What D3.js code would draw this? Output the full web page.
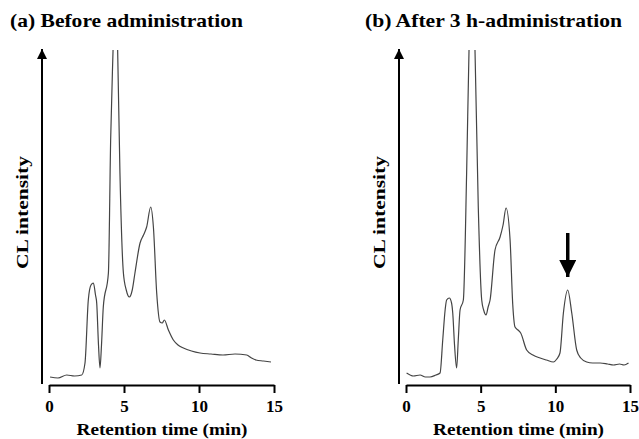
<!DOCTYPE html>
<html>
<head>
<meta charset="utf-8">
<script src="https://cdn.jsdelivr.net/npm/d3@7"></script>
<style>
  body { margin: 0; background: #fff; }
  text { font-family: "Liberation Serif", "DejaVu Serif Condensed", "DejaVu Serif", serif; font-weight: bold; }
</style>
</head>
<body>
<svg id="chart" width="639" height="439"></svg>
<script>
// retention time (min) and CL intensity (arbitrary units)
const timeA = [0.07, 0.6, 1.18, 1.7, 2.18, 2.4, 2.62, 2.8, 2.96, 3.1, 3.18, 3.3, 3.4, 3.5, 3.62, 3.96, 4.11, 4.28, 4.43, 4.57, 4.73, 4.96, 5.15, 5.36, 5.55, 5.73, 6.07, 6.3, 6.51, 6.78, 6.96, 7.18, 7.4, 7.55, 7.69, 7.96, 8.29, 8.6, 8.96, 9.5, 10.07, 10.8, 11.6, 12.4, 13.18, 13.5, 13.8, 14.3, 14.8];
const cltA  = [8, 7, 10, 9, 10, 22, 85, 100, 102, 90, 82, 40, 17, 40, 78, 112, 245, 340, 420, 340, 212, 112, 95, 88, 95, 112, 142, 150, 158, 178, 158, 92, 63, 62, 65, 55, 45, 40, 37, 34, 32, 31, 30, 31, 30, 27, 25, 24, 23];

const timeB = [0.04, 0.5, 0.94, 1.3, 1.61, 2.0, 2.28, 2.46, 2.62, 2.72, 2.9, 3.05, 3.13, 3.25, 3.39, 3.5, 3.62, 3.84, 4.06, 4.22, 4.42, 4.62, 4.84, 5.07, 5.2, 5.36, 5.5, 5.63, 5.96, 6.3, 6.5, 6.7, 6.97, 7.15, 7.3, 7.5, 7.68, 8.08, 8.5, 8.98, 9.4, 9.87, 10.1, 10.31, 10.54, 10.83, 11.1, 11.43, 11.7, 12.1, 12.5, 13.0, 13.5, 13.9, 14.3, 14.6, 14.9];
const cltB  = [12, 9, 10, 8, 8, 10, 12, 45, 75, 85, 87, 82, 72, 40, 17, 45, 75, 85, 212, 335, 420, 335, 178, 85, 75, 70, 78, 85, 135, 148, 160, 177, 145, 80, 58, 55, 52, 35, 30, 27, 25, 23, 26, 32, 72, 95, 72, 35, 27, 23, 22, 22, 21, 20, 21, 20, 22];

const panels = [
  {title: "(a) Before administration", time: timeA, clt: cltA, x0: 49, x1: 274, yAxisX: 42, titleX: 10, titleW: 233, ylabX: 28, marker: null},
  {title: "(b) After 3 h-administration", time: timeB, clt: cltB, x0: 406, x1: 630, yAxisX: 399, titleX: 365, titleW: 257, ylabX: 385, marker: 10.83}
];
const xTicks = [0, 5, 10, 15];

const svg = d3.select("#chart");
const yBottom = 385, yTop = 50;

const defs = svg.append("defs");
defs.append("marker")
  .attr("id", "head")
  .attr("viewBox", "0 0 10 10")
  .attr("refX", 10).attr("refY", 5)
  .attr("markerWidth", 5).attr("markerHeight", 5)
  .attr("markerUnits", "strokeWidth")
  .attr("orient", "auto")
  .append("path").attr("d", "M0,0 L10,5 L0,10 Z").attr("fill", "#000");

panels.forEach(function(p, i) {
  const x = d3.scaleLinear().domain([0, 15]).range([p.x0, p.x1]);
  const y = d3.scaleLinear().domain([0, 335]).range([yBottom, yTop]);
  const g = svg.append("g");

  defs.append("clipPath").attr("id", "clip" + i)
    .append("rect").attr("x", p.x0 - 5).attr("y", yTop).attr("width", p.x1 - p.x0 + 10).attr("height", yBottom - yTop);

  // title
  g.append("text")
    .attr("x", p.titleX).attr("y", 27)
    .attr("textLength", p.titleW).attr("lengthAdjust", "spacingAndGlyphs")
    .style("font-size", "19px")
    .text(p.title);

  // y axis with arrow
  g.append("line")
    .attr("x1", p.yAxisX).attr("x2", p.yAxisX)
    .attr("y1", 384).attr("y2", 49)
    .attr("stroke", "#000").attr("stroke-width", 2)
    .attr("marker-end", "url(#head)");

  g.append("text")
    .attr("transform", "translate(" + (p.ylabX - 56) + "," + 213 + ") rotate(-90)")
    .attr("x", -56).attr("y", 56)
    .attr("textLength", 113).attr("lengthAdjust", "spacingAndGlyphs")
    .style("font-size", "17px")
    .text("CL intensity");

  // x axis
  const ax = g.append("g")
    .attr("transform", "translate(0," + yBottom + ")")
    .call(d3.axisBottom(x).tickValues(xTicks).tickSize(8).tickSizeOuter(0));
  ax.select(".domain").attr("stroke", "#000").attr("stroke-width", 2);
  ax.selectAll(".tick line").attr("stroke", "#000").attr("stroke-width", 2);
  ax.selectAll(".tick text")
    .attr("y", 27).attr("dy", null)
    .attr("fill", "#000")
    .style("font-size", "17px")
    .style("font-family", "inherit")
    .style("font-weight", "bold");
  ax.attr("font-family", null).attr("font-size", null);

  const xl = (p.x0 + p.x1) / 2;
  g.append("text")
    .attr("x", xl - 85).attr("y", 435)
    .attr("textLength", 171).attr("lengthAdjust", "spacingAndGlyphs")
    .style("font-size", "17px")
    .text("Retention time (min)");

  // trace
  const data = p.time.map((t, k) => [t, p.clt[k]]);
  g.append("path")
    .datum(data)
    .attr("clip-path", "url(#clip" + i + ")")
    .attr("fill", "none")
    .attr("stroke", "#444")
    .attr("stroke-width", 1.2)
    .attr("d", d3.line().x(d => x(d[0])).y(d => y(d[1])).curve(d3.curveMonotoneX));

  if (p.marker !== null) {
    const mx = x(p.marker);
    g.append("line")
      .attr("x1", mx).attr("x2", mx)
      .attr("y1", 233).attr("y2", 277)
      .attr("stroke", "#000").attr("stroke-width", 3.5)
      .attr("marker-end", "url(#head)");
  }
});
</script>
</body>
</html>
